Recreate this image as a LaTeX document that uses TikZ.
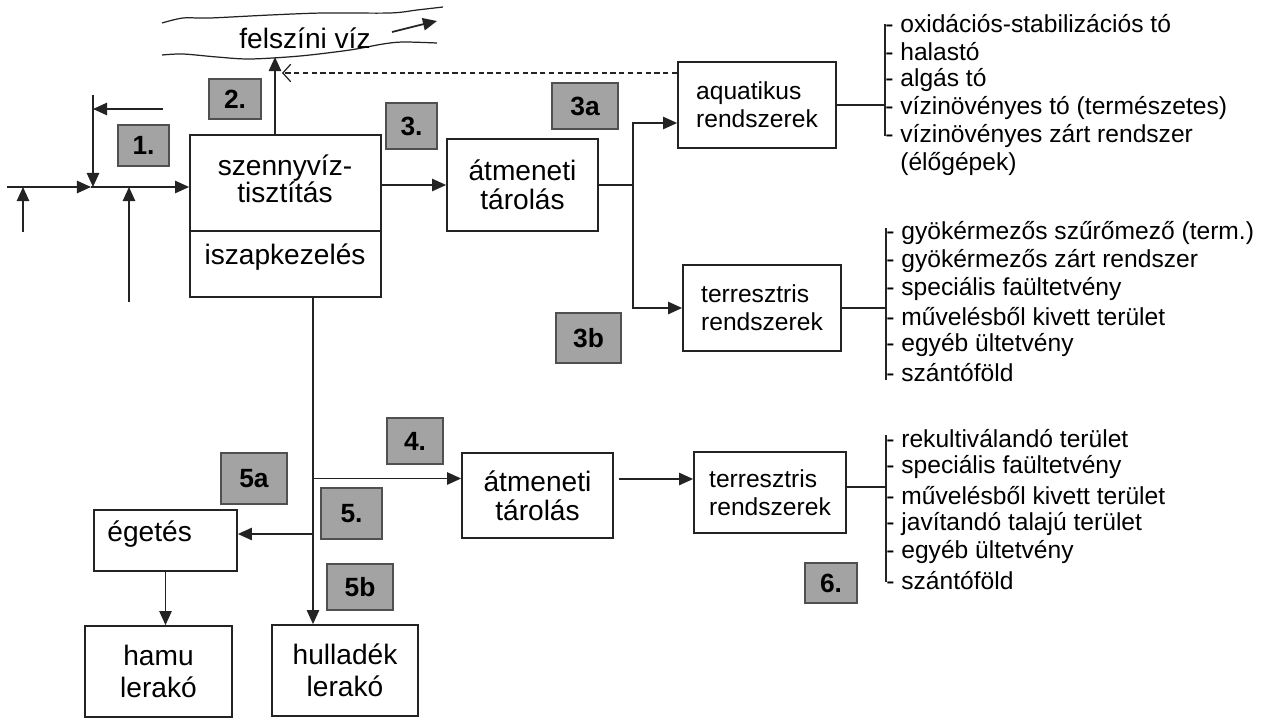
\documentclass[tikz,border=0pt]{standalone}
\usepackage{fontspec}
\setmainfont{Liberation Sans}
\usetikzlibrary{arrows.meta,positioning,calc}
\definecolor{ink}{RGB}{35,35,35}
\definecolor{labgray}{RGB}{163,163,163}
\definecolor{labedge}{RGB}{80,80,80}

\tikzset{
  box/.style={draw=ink, line width=1pt, inner sep=0pt, align=center, font=\fontsize{16}{16.5}\selectfont},
  sbox/.style={box, align=left, font=\fontsize{14}{15.9}\selectfont},
  tag/.style={draw=labedge, fill=labgray, line width=0.8pt, inner sep=0pt, font=\fontsize{15}{15}\selectfont\bfseries},
  conn/.style={draw=ink, line width=1pt},
  arr/.style={conn, -{Triangle[length=8pt,width=7pt]}},
  item/.style={anchor=west, inner sep=0pt, font=\fontsize{14}{16}\selectfont},
}

\begin{document}
\begin{tikzpicture}[x=0.02cm, y=-0.02cm]
  \useasboundingbox (0,0) rectangle (1268,720);

  % surface water
  \draw[ink, line width=0.7pt] plot[smooth] coordinates {(162,23) (183,18) (210,18) (270,15) (323,13) (390,13) (417,10) (443,7)};
  \draw[ink, line width=0.7pt] plot[smooth] coordinates {(162,55) (183,54) (217,57) (250,59) (300,56) (350,50) (383,44) (403,42) (437,43)};
  \node[inner sep=0pt, font=\fontsize{16}{16}\selectfont] (water) at (305,38) {felszíni víz};
  \draw[arr] (392,32) .. controls (407,28) .. (437,21);

  % treatment box
  \node[box, minimum width=3.82cm, minimum height=3.24cm] (main) at (285.5,216) {};
  \draw[conn] (main.west |- 0,231) -- (main.east |- 0,231);
  \node[inner sep=0pt, align=center, font=\fontsize{16}{15.5}\selectfont] (mtop) at (285,179) {szennyvíz-\\tisztítás};
  \node[inner sep=0pt, font=\fontsize{16}{16}\selectfont] (mbot) at (285,257) {iszapkezelés};

  % boxes
  \node[box, minimum width=3.02cm, minimum height=1.84cm] (at1) at (522.5,185) {átmeneti\\tárolás};
  \node[sbox, minimum width=3.16cm, minimum height=1.72cm] (aq) at (757,105) {aquatikus\\rendszerek};
  \node[sbox, minimum width=3.16cm, minimum height=1.72cm] (te1) at (762,308) {terresztris\\rendszerek};
  \node[box, minimum width=3.02cm, minimum height=1.70cm] (at2) at (537.5,495.5) {átmeneti\\tárolás};
  \node[sbox, minimum width=3.04cm, minimum height=1.62cm] (te2) at (770,492.5) {terresztris\\rendszerek};
  \node[box, minimum width=2.86cm, minimum height=1.22cm] (eg) at (165.5,540.5) {};
  \node[inner sep=0pt, anchor=west, font=\fontsize{16}{16}\selectfont] (egt) at ([xshift=0.28cm, yshift=0.12cm]eg.west) {égetés};
  \node[box, font=\fontsize{16}{18}\selectfont, minimum width=2.94cm, minimum height=1.82cm] (ham) at (158.5,671.5) {hamu\\lerakó};
  \node[box, font=\fontsize{16}{18}\selectfont, minimum width=2.92cm, minimum height=1.82cm] (hul) at (345,670.5) {hulladék\\lerakó};

  % number tags
  \node[tag, minimum width=1.02cm, minimum height=0.82cm] (t1) at (143.5,145.5) {1.};
  \node[tag, minimum width=1.04cm, minimum height=0.80cm] (t2) at (235,99) {2.};
  \node[tag, minimum width=1.02cm, minimum height=0.92cm] (t3) at (411.5,126) {3.};
  \node[tag, minimum width=1.32cm, minimum height=0.92cm] (t3a) at (585,106) {3a};
  \node[tag, minimum width=1.30cm, minimum height=1.00cm] (t3b) at (588.5,338) {3b};
  \node[tag, minimum width=1.12cm, minimum height=0.92cm] (t4) at (415,441) {4.};
  \node[tag, minimum width=1.32cm, minimum height=1.02cm] (t5a) at (254,478.5) {5a};
  \node[tag, minimum width=1.22cm, minimum height=1.02cm] (t5) at (351.5,513.5) {5.};
  \node[tag, minimum width=1.32cm, minimum height=0.92cm] (t5b) at (360,587) {5b};
  \node[tag, minimum width=1.04cm, minimum height=0.80cm] (t6) at (831,583) {6.};

  % inflow
  \coordinate (src0) at (7,187);
  \coordinate (jn) at (91,187);
  \coordinate (src1) at (23,232);
  \coordinate (src2) at (129,302);
  \coordinate (tap) at (93,95);
  \coordinate (ret) at (163,109);
  \draw[arr] (src0) -- (jn);
  \draw[arr] (jn) -- (jn -| main.west);
  \draw[arr] (src1) -- (src1 |- jn);
  \draw[arr] (src2) -- (src2 |- jn);
  \draw[arr] (tap) -- (tap |- jn);
  \draw[arr] (ret) -- (ret -| tap);

  % to surface water
  \coordinate (w2) at (275,57);
  \coordinate (dsh) at (282,73);
  \draw[arr] (main.north -| w2) -- (w2);
  \draw[draw=ink, line width=0.7pt, dash pattern=on 3pt off 2pt, -{Straight Barb[length=4.5pt,width=10pt]}] (aq.north west |- dsh) -- (dsh);

  % storage and systems
  \coordinate (in3a) at ([yshift=-0.36cm]aq.west);
  \draw[arr] (main.east |- at1.west) -- (at1.west);
  \draw[conn] (at1.east) -- ++(34,0) coordinate (sp3);
  \draw[arr] (sp3) |- (in3a);
  \draw[arr] (sp3) |- (te1.west);

  % sludge line
  \coordinate (trunk) at ([xshift=0.55cm]main.south);
  \coordinate (in4) at ([yshift=0.34cm]at2.west);
  \coordinate (in5) at ([yshift=0.13cm]eg.east);
  \coordinate (in6) at ([yshift=0.27cm]te2.west);
  \draw[arr] (trunk) -- (trunk |- hul.north);
  \draw[arr] (trunk |- in4) -- (in4);
  \draw[arr] (trunk |- in5) -- (in5);
  \draw[arr] (eg.south) -- (eg.south |- ham.north);
  \draw[arr] (at2.east |- in6) ++(5,0) -- (in6);

  % lists
  \foreach \t [count=\i] in {oxidációs-stabilizációs tó, halastó, algás tó, vízinövényes tó (természetes), vízinövényes zárt rendszer}
    \node[item] (la\i) at (885,{28*\i-4}) {- \t};
  \node[item] (la6) at (900,164) {(élőgépek)};
  \foreach \t [count=\i] in {gyökérmezős szűrőmező (term.), gyökérmezős zárt rendszer, speciális faültetvény, művelésből kivett terület, egyéb ültetvény, szántóföld}
    \node[item] (lb\i) at (886,{205+28*\i}) {- \t};
  \foreach \t [count=\i] in {rekultiválandó terület, speciális faültetvény, művelésből kivett terület, javítandó talajú terület, egyéb ültetvény, szántóföld}
    \node[item] (lc\i) at (886,{410+28.4*\i}) {- \t};

  \draw[conn] (la1.west) -- (la5.west);
  \draw[conn] (aq.east) -- (aq.east -| la1.west);
  \draw[conn] ([yshift=0.1cm]lb1.west) -- ([yshift=-0.14cm]lb6.west);
  \draw[conn] (te1.east) -- (te1.east -| lb1.west);
  \draw[conn] ([yshift=0.06cm]lc1.west) -- ([yshift=-0.04cm]lc6.west);
  \draw[conn] ([yshift=0.11cm]te2.east) -- ([yshift=0.11cm]te2.east -| lc1.west);
\end{tikzpicture}
\end{document}
